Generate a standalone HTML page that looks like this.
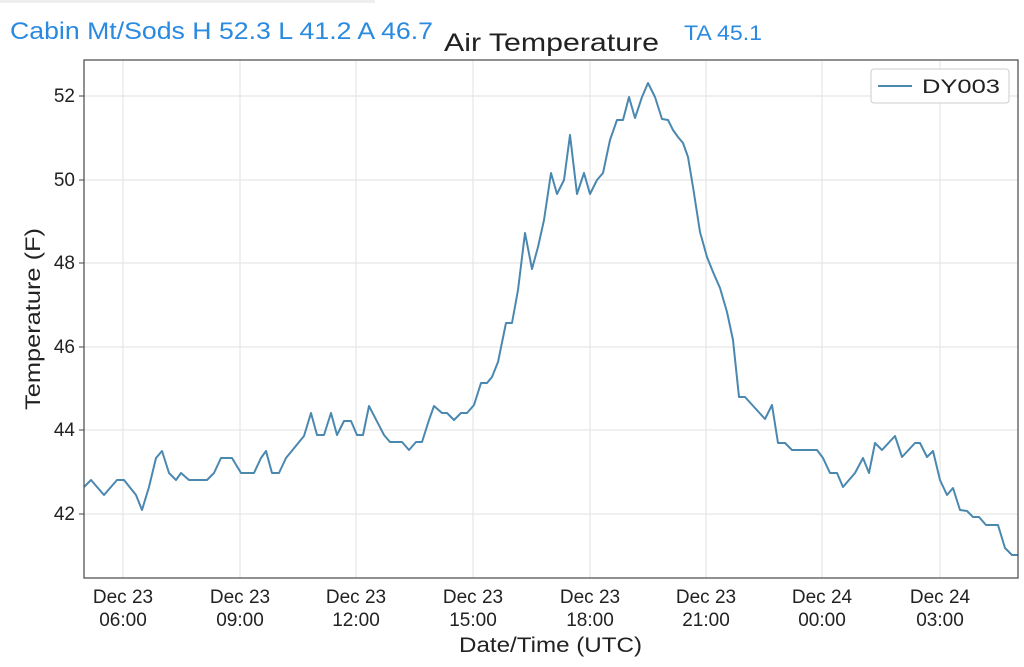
<!DOCTYPE html>
<html><head><meta charset="utf-8"><style>
body{margin:0;background:#fff;width:1024px;height:662px;overflow:hidden;font-family:"Liberation Sans",sans-serif}
</style></head><body>
<svg width="1024" height="662" xmlns="http://www.w3.org/2000/svg" font-family="Liberation Sans, sans-serif">
<rect width="1024" height="662" fill="#fff"/>
<rect x="0" y="0" width="375" height="3" fill="#eee"/>
<text x="10" y="39" font-size="24" fill="#2a8ae0" textLength="423" lengthAdjust="spacingAndGlyphs">Cabin Mt/Sods H 52.3 L 41.2 A 46.7</text>
<text x="444" y="51" font-size="25" fill="#222" textLength="215" lengthAdjust="spacingAndGlyphs">Air Temperature</text>
<text x="684" y="40" font-size="21" fill="#2a8ae0" textLength="78" lengthAdjust="spacingAndGlyphs">TA 45.1</text>
<g stroke="#e6e6e6" stroke-width="1.2">
<line x1="84" x2="1018" y1="96" y2="96"/><line x1="84" x2="1018" y1="180" y2="180"/>
<line x1="84" x2="1018" y1="263" y2="263"/><line x1="84" x2="1018" y1="347" y2="347"/>
<line x1="84" x2="1018" y1="430" y2="430"/><line x1="84" x2="1018" y1="514" y2="514"/>
<line x1="123" x2="123" y1="60" y2="578"/><line x1="240" x2="240" y1="60" y2="578"/>
<line x1="356" x2="356" y1="60" y2="578"/><line x1="473" x2="473" y1="60" y2="578"/>
<line x1="590" x2="590" y1="60" y2="578"/><line x1="706" x2="706" y1="60" y2="578"/>
<line x1="822" x2="822" y1="60" y2="578"/><line x1="940" x2="940" y1="60" y2="578"/>
</g>
<polyline fill="none" stroke="#4a88b0" stroke-width="2" stroke-linejoin="round" points="84,487 91,480 104,495 117,480 124,480 136,495 142,510 149,487 156,458 162,451 169,473 176,480 181,473 189,480 207,480 214,473 221,458 232,458 241,473 254,473 261,458 266,451 272,473 279,473 286,458 304,436 311,413 317,435 324,435 331,413 337,435 344,421 351,421 357,435 363,435 369,406 384,435 390,442 402,442 409,450 416,442 422,442 429,420 434,406 442,413 447,413 454,420 461,413 467,413 474,405 481,383 487,383 492,377 498,362 506,323 512,323 518,290 525,233 532,269 538,247 544,220 551,173 557,194 564,180 570,135 577,194 584,173 590,194 597,180 603,173 610,140 617,120 623,120 629,97 635,118 642,97 648,83 655,97 662,119 668,120 673,130 678,137 683,143 688,157 693,187 700,232 707,257 713,272 720,288 727,312 733,340 739,397 745,397 765,419 772,405 778,443 785,443 792,450 817,450 823,458 830,473 837,473 843,487 855,473 863,458 869,473 875,443 882,450 895,436 902,457 915,443 920,443 927,457 933,451 940,480 947,495 953,488 960,510 967,511 973,517 979,517 986,525 998,525 1005,548 1012,555 1018,555"/>
<rect x="84" y="60" width="934" height="518" fill="none" stroke="#555" stroke-width="1.3"/>
<g font-size="19" fill="#222" text-anchor="end">
<text x="75" y="102">52</text><text x="75" y="186">50</text><text x="75" y="269">48</text>
<text x="75" y="353">46</text><text x="75" y="436">44</text><text x="75" y="520">42</text>
</g>
<g stroke="#444"><line x1="79" x2="84" y1="96" y2="96"/><line x1="79" x2="84" y1="180" y2="180"/><line x1="79" x2="84" y1="263" y2="263"/><line x1="79" x2="84" y1="347" y2="347"/><line x1="79" x2="84" y1="430" y2="430"/><line x1="79" x2="84" y1="514" y2="514"/></g>
<g font-size="19" fill="#222" text-anchor="middle">
<text x="123" y="603">Dec 23</text><text x="123" y="626">06:00</text>
<text x="240" y="603">Dec 23</text><text x="240" y="626">09:00</text>
<text x="356" y="603">Dec 23</text><text x="356" y="626">12:00</text>
<text x="473" y="603">Dec 23</text><text x="473" y="626">15:00</text>
<text x="590" y="603">Dec 23</text><text x="590" y="626">18:00</text>
<text x="706" y="603">Dec 23</text><text x="706" y="626">21:00</text>
<text x="822" y="603">Dec 24</text><text x="822" y="626">00:00</text>
<text x="940" y="603">Dec 24</text><text x="940" y="626">03:00</text>
</g>
<text x="459" y="652" font-size="21" fill="#222" textLength="183" lengthAdjust="spacingAndGlyphs">Date/Time (UTC)</text>
<text transform="translate(40,410) rotate(-90)" font-size="21" fill="#222" textLength="182" lengthAdjust="spacingAndGlyphs">Temperature (F)</text>
<rect x="871" y="69" width="138" height="34" rx="3" fill="#fff" stroke="#ccc"/>
<line x1="878" x2="912" y1="86" y2="86" stroke="#4a88b0" stroke-width="2"/>
<text x="922" y="93" font-size="19" fill="#222" textLength="78" lengthAdjust="spacingAndGlyphs">DY003</text>
</svg>
</body></html>
